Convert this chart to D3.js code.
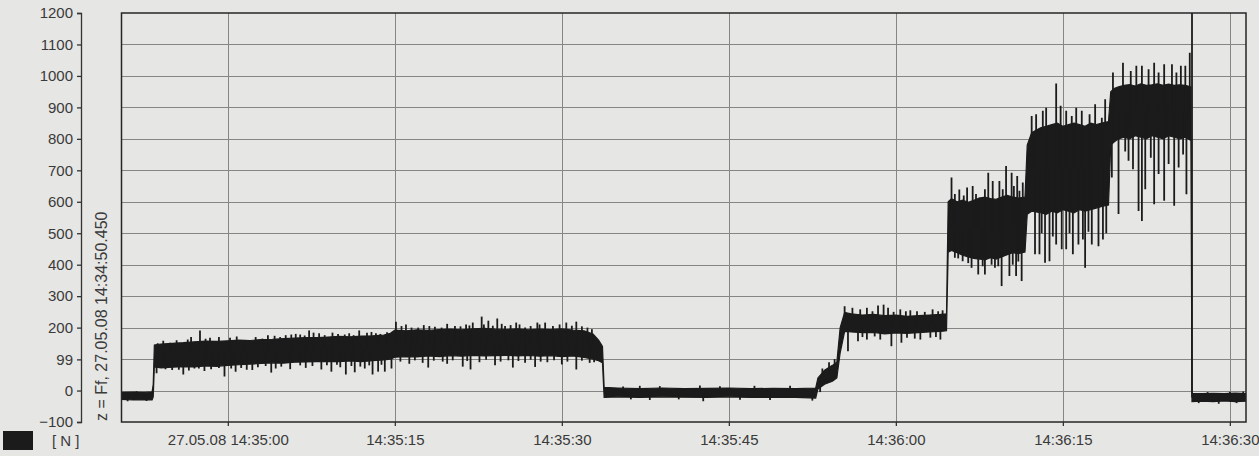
<!DOCTYPE html>
<html>
<head>
<meta charset="utf-8">
<script src="https://cdn.jsdelivr.net/npm/d3@7"></script>
<style>
  body { margin: 0; background: #e6e6e4; }
  svg { display: block; font-family: "Liberation Sans", Arial, sans-serif; }
</style>
</head>
<body>
<div id="chart"></div>
<script>
// all times are seconds relative to 27.05.08 14:35:00
var startSec = -9.55, endSec = 91.45;

var yTicks = [-100, 0, 99, 200, 300, 400, 500, 600, 700, 800, 900, 1000, 1100, 1200];
var xTickSeconds = [0, 15, 30, 45, 60, 75, 90];
var xTickLabels = ["27.05.08 14:35:00", "14:35:15", "14:35:30", "14:35:45", "14:36:00", "14:36:15", "14:36:30"];

var axisTitle = "z = Ff, 27.05.08 14:34:50.450";
var unitLabel = "[ N ]";

// dense band of the force signal: time, lower edge, upper edge [N]
var coreTimes = [-9.55, -8.5, -7.5, -6.8, -6.7, -6.6,
  -6, -5, -4, -3, -2, -1, 0, 1, 2, 3, 4, 5, 6, 7, 8, 9, 10, 11, 12, 13, 14, 14.6,
  15, 16, 17, 18, 19, 20, 21, 22, 23, 24, 25, 26, 27, 28, 29, 30, 31, 32, 32.8, 33.3, 33.65,
  33.8, 35, 37, 39, 41, 43, 45, 47, 49, 51, 52.8,
  53, 53.6, 54.3, 54.7, 55, 55.4,
  56, 57, 58, 59, 60, 61, 62, 63, 64, 64.55,
  64.7, 65, 65.5, 66, 66.5, 67, 67.5, 68, 68.5, 69, 69.5, 70, 70.5, 71, 71.6,
  71.8, 72.2, 73, 73.5, 74, 74.5, 75, 75.5, 76, 76.5, 77, 77.5, 78, 78.5, 79.1,
  79.3, 79.6, 80, 80.5, 81, 81.5, 82, 82.5, 83, 83.5, 84, 84.5, 85, 85.5, 86, 86.5,
  86.6, 87.5, 88.5, 89.5, 90.5, 91.45];
var coreLow = [-28, -30, -29, -30, -20, 75,
  72, 74, 76, 75, 78, 77, 80, 82, 84, 86, 88, 87, 90, 91, 92, 93, 92, 94, 92, 95, 97, 100,
  106, 108, 107, 110, 108, 111, 109, 112, 110, 111, 112, 110, 112, 109, 111, 108, 110, 105, 100, 95, 88,
  -22, -20, -22, -20, -21, -22, -20, -22, -21, -22, -24,
  5, 20, 30, 40, 120, 188,
  186, 184, 185, 180, 183, 182, 184, 186, 188, 190,
  440, 445, 438, 430, 425, 420, 418, 415, 422, 418, 425, 432, 438, 435, 440,
  560, 570, 565, 560, 570, 565, 575, 570, 565, 575, 570, 575, 580, 585, 590,
  780, 790, 800, 805, 800, 810, 805, 800, 810, 805, 800, 810, 805, 800, 805, 795,
  -35, -34, -35, -33, -35, -34];
var coreHigh = [-6, -5, -6, -4, 20, 145,
  148, 150, 152, 155, 157, 156, 158, 160, 159, 162, 163, 165, 167, 168, 168, 170, 172, 171, 173, 174, 176, 182,
  192, 190, 193, 191, 194, 195, 193, 196, 198, 195, 194, 196, 193, 195, 194, 196, 192, 190, 180, 160, 140,
  10, 8, 6, 8, 6, 7, 8, 6, 7, 6, 8,
  40, 65, 80, 90, 200, 248,
  244, 240, 242, 238, 240, 236, 238, 240, 242, 244,
  600, 610, 600, 605, 598, 605, 612, 615, 610, 608, 615, 620, 615, 612, 615,
  780, 820, 835, 840, 845, 850, 840, 845, 850, 845, 840, 850, 845, 850, 855,
  950, 960, 965, 970, 972, 968, 975, 970, 972, 975, 970, 974, 970, 972, 970, 965,
  -10, -10, -9, -10, -8, -10];

// single peaks sticking out of the band: [time, value]
var spikes = [
  [-9, -34], [-8.2, -2], [-7.3, -33],
  // first plateau, up
  [-6.3, 150], [-5.2, 152], [-2.5, 191], [-1.6, 168], [0.2, 168], [1.5, 160], [3.1, 165], [4.7, 170],
  [5.7, 178], [6.5, 178], [7.3, 191], [7.7, 184], [8.7, 176], [9.4, 184], [10.5, 178], [11.8, 191],
  [12.5, 184], [12.9, 186], [13.7, 180], [15.1, 219], [16.0, 210], [17.1, 200], [18.1, 205], [19.2, 200],
  [20.4, 205], [21.4, 210], [22.0, 216], [22.8, 235], [23.4, 222], [24.2, 229], [24.9, 205], [25.9, 216],
  [26.7, 200], [27.8, 216], [28.5, 216], [29.2, 205], [30.4, 216], [31.3, 219], [32.3, 200],
  [-5.8, 158], [-4.6, 160], [-3.6, 162], [-3.3, 170], [-2.0, 165], [-0.8, 170], [0.8, 172], [2.5, 170],
  [3.6, 176], [4.2, 174], [5.2, 176], [6.1, 180], [6.9, 175], [8.2, 182], [9.9, 180], [10.9, 182],
  [11.3, 176], [13.3, 182], [14.3, 185], [15.6, 205], [16.5, 200], [17.6, 208], [18.6, 203], [19.7, 212],
  [20.9, 204], [21.7, 207], [23.0, 210], [23.8, 206], [24.6, 212], [25.4, 208], [26.2, 210], [27.2, 205],
  [28.0, 210], [29.8, 210], [30.9, 206], [31.8, 204], [32.7, 195],
  // first plateau, down
  [-6.4, 55], [-5.0, 65], [-4.0, 51], [-3.0, 70], [-2.1, 62], [-0.3, 45], [0.7, 60], [2.2, 65],
  [3.9, 57], [4.3, 70], [5.6, 68], [7.0, 72], [8.4, 67], [9.3, 60], [10.6, 51], [11.4, 58],
  [12.3, 70], [13.0, 51], [13.5, 60], [14.1, 60], [14.7, 70], [16.3, 85], [18.0, 73], [19.7, 85],
  [21.1, 76], [21.8, 67], [22.6, 90], [24.0, 80], [25.6, 73], [26.7, 88], [27.6, 75], [28.7, 90],
  [30.0, 83], [31.3, 67], [32.5, 88],
  [-5.6, 68], [-4.4, 66], [-3.5, 64], [-2.6, 70], [-1.5, 68], [-0.8, 72], [0.3, 70], [1.2, 72],
  [1.7, 66], [2.7, 74], [3.4, 78], [4.8, 76], [6.5, 80], [7.6, 78], [8.9, 80], [9.8, 82],
  [10.1, 74], [11.1, 78], [11.9, 76], [12.7, 80], [13.8, 82], [15.5, 92], [16.8, 96], [17.5, 88],
  [18.5, 95], [19.3, 92], [20.2, 96], [21.5, 94], [23.2, 98], [24.5, 92], [25.2, 96], [26.1, 94],
  [27.2, 98], [28.1, 92], [29.3, 96], [30.5, 92], [31.8, 95], [32.9, 90],
  // zero line
  [35.5, 13], [36.2, -28], [37.0, 15], [37.9, -30], [38.8, 14], [40.5, -28], [42.4, 16], [42.7, -34],
  [44.2, 14], [46.0, -29], [47.3, 15], [48.7, -30], [50.5, 15], [52.5, -32],
  [53.2, -5], [53.4, 70], [54.0, 90], [54.5, 100],
  // 200 N plateau
  [55.4, 268], [56.1, 263], [56.8, 258], [57.4, 263], [58.4, 270], [58.9, 273], [59.3, 263], [60.4, 258],
  [61.3, 255], [61.9, 252], [63.3, 258], [64.2, 255], [57.9, 252], [59.8, 250], [60.9, 252], [62.6, 250],
  [63.8, 252],
  [55.7, 125], [56.6, 157], [57.4, 162], [58.6, 162], [59.6, 141], [60.5, 152], [62.2, 162], [63.1, 168],
  [64.0, 162], [57.0, 170], [58.1, 172], [61.0, 168], [61.7, 165], [63.6, 170],
  // 500 N plateau
  [65.0, 677], [65.7, 639], [66.4, 645], [66.9, 650], [67.5, 613], [68.3, 692], [68.7, 666], [69.3, 666],
  [69.9, 714], [70.4, 692], [70.9, 682], [71.4, 661], [65.3, 625], [66.1, 620], [67.2, 625], [68.0, 640],
  [69.6, 640], [70.6, 650], [71.1, 635],
  [65.3, 422], [66.0, 411], [66.8, 390], [67.4, 369], [68.0, 369], [68.9, 390], [69.5, 332], [70.2, 364],
  [70.8, 364], [71.3, 348], [65.6, 420], [66.5, 405], [67.8, 395], [68.6, 400], [69.2, 395], [70.5, 400],
  [71.0, 410],
  // 800 N plateau
  [72.2, 873], [72.6, 878], [73.2, 889], [73.5, 899], [74.4, 976], [74.8, 905], [75.3, 889], [75.8, 873],
  [76.2, 899], [76.7, 889], [77.4, 878], [77.9, 910], [78.5, 867], [78.8, 926],
  [72.5, 433], [72.9, 433], [73.4, 406], [73.8, 411], [74.4, 464], [74.9, 449], [75.3, 449], [75.9, 433],
  [76.4, 464], [77.0, 390], [77.6, 464], [78.2, 459], [78.6, 480], [73.1, 500], [74.1, 490], [75.6, 500],
  [76.8, 480], [77.3, 505], [78.9, 500],
  // 900 N plateau
  [79.5, 1011], [80.4, 1042], [81.1, 1016], [81.6, 1032], [82.1, 1032], [82.7, 1021], [83.2, 1042], [83.6, 1011],
  [84.1, 1037], [84.8, 1037], [85.2, 1011], [85.6, 1032], [86.0, 1032], [86.4, 1074],
  [79.4, 677], [80.0, 561], [80.9, 730], [81.3, 703], [81.8, 571], [82.1, 539], [82.4, 640], [83.2, 592],
  [83.6, 688], [84.1, 603], [85.0, 587], [85.4, 709], [86.1, 624], [80.6, 760], [82.9, 740], [84.5, 720],
  [85.8, 750],
  // release
  [86.6, 1300],
  [87.2, -40], [88.0, -5], [89.0, -42], [90.0, -4], [90.6, -40], [91.2, -3]
];

var width = 1259, height = 456;
var margin = { top: 13, right: 13, bottom: 34, left: 121.5 };

var base = new Date(2008, 4, 27, 14, 35, 0);
function toDate(s) { return new Date(base.getTime() + s * 1000); }

var x = d3.scaleTime()
  .domain([toDate(startSec), toDate(endSec)])
  .range([margin.left, width - margin.right]);
var y = d3.scaleLinear()
  .domain([-100, 1200])
  .range([height - margin.bottom, margin.top]);

var svg = d3.select("#chart").append("svg")
  .attr("width", width)
  .attr("height", height);

svg.append("rect").attr("width", width).attr("height", height).attr("fill", "#e6e6e4");

svg.append("clipPath").attr("id", "plotClip")
  .append("rect")
  .attr("x", x.range()[0]).attr("y", y.range()[1])
  .attr("width", x.range()[1] - x.range()[0])
  .attr("height", y.range()[0] - y.range()[1]);

// grid
var grid = svg.append("g").attr("stroke", "#858583").attr("stroke-width", 1);
grid.selectAll("line.h")
  .data(yTicks.slice(1, -1))
  .enter().append("line")
  .attr("x1", x.range()[0]).attr("x2", x.range()[1])
  .attr("y1", function (d) { return Math.round(y(d)) + 0.5; })
  .attr("y2", function (d) { return Math.round(y(d)) + 0.5; });
grid.selectAll("line.v")
  .data(xTickSeconds)
  .enter().append("line")
  .attr("x1", function (d) { return Math.round(x(toDate(d))) + 0.5; })
  .attr("x2", function (d) { return Math.round(x(toDate(d))) + 0.5; })
  .attr("y1", y.range()[1]).attr("y2", y.range()[0]);

// signal
var plot = svg.append("g").attr("clip-path", "url(#plotClip)");
var core = coreTimes.map(function (t, i) { return { t: t, lo: coreLow[i], hi: coreHigh[i] }; });

var area = d3.area()
  .x(function (d) { return x(toDate(d.t)); })
  .y0(function (d) { return y(d.lo); })
  .y1(function (d) { return y(d.hi); });

plot.append("path")
  .datum(core)
  .attr("d", area)
  .attr("fill", "#1b1b1b")
  .attr("stroke", "#1b1b1b")
  .attr("stroke-width", 1.2);

function coreMid(t) {
  var i = d3.bisectLeft(coreTimes, t);
  if (i <= 0) return (coreLow[0] + coreHigh[0]) / 2;
  if (i >= coreTimes.length) return (coreLow[coreTimes.length - 1] + coreHigh[coreTimes.length - 1]) / 2;
  var f = (t - coreTimes[i - 1]) / (coreTimes[i] - coreTimes[i - 1]);
  var m0 = (coreLow[i - 1] + coreHigh[i - 1]) / 2, m1 = (coreLow[i] + coreHigh[i]) / 2;
  return m0 + (m1 - m0) * f;
}

plot.selectAll("line.spike")
  .data(spikes)
  .enter().append("line")
  .attr("x1", function (d) { return x(toDate(d[0])); })
  .attr("x2", function (d) { return x(toDate(d[0])); })
  .attr("y1", function (d) { return y(coreMid(d[0])); })
  .attr("y2", function (d) { return y(d[1]); })
  .attr("stroke", "#1b1b1b")
  .attr("stroke-width", 1.8);

// frame
svg.append("rect")
  .attr("x", x.range()[0]).attr("y", y.range()[1])
  .attr("width", x.range()[1] - x.range()[0])
  .attr("height", y.range()[0] - y.range()[1])
  .attr("fill", "none")
  .attr("stroke", "#262626")
  .attr("stroke-width", 1.5);

// y axis, detached to the left
var yAxis = svg.append("g")
  .attr("transform", "translate(81,0)")
  .call(d3.axisLeft(y).tickValues(yTicks).tickSize(4).tickPadding(4).tickFormat(d3.format("d")));
yAxis.selectAll("path, line").attr("stroke", "#333").attr("stroke-width", 1.3);
yAxis.selectAll("text").attr("fill", "#3a3a3a").attr("font-size", 15).attr("font-family", "Liberation Sans, Arial, sans-serif");

// x axis
var xAxis = svg.append("g")
  .attr("transform", "translate(0," + y.range()[0] + ")")
  .call(d3.axisBottom(x)
    .tickValues(xTickSeconds.map(toDate))
    .tickFormat(function (d, i) { return xTickLabels[i]; })
    .tickSize(4).tickSizeOuter(0).tickPadding(8));
xAxis.select(".domain").remove();
xAxis.selectAll("line").attr("stroke", "#333").attr("stroke-width", 1.3);
xAxis.selectAll("text").attr("fill", "#3a3a3a").attr("font-size", 15).attr("font-family", "Liberation Sans, Arial, sans-serif");

// rotated channel label
svg.append("text")
  .attr("transform", "translate(107,421) rotate(-90)")
  .attr("font-size", 16)
  .attr("fill", "#3a3a3a")
  .text(axisTitle);

// legend swatch
svg.append("rect")
  .attr("x", 3).attr("y", 431).attr("width", 30).attr("height", 19)
  .attr("fill", "#1b1b1b");
svg.append("text")
  .attr("x", 52).attr("y", 446)
  .attr("font-size", 15)
  .attr("fill", "#3a3a3a")
  .text(unitLabel);
</script>
</body>
</html>
